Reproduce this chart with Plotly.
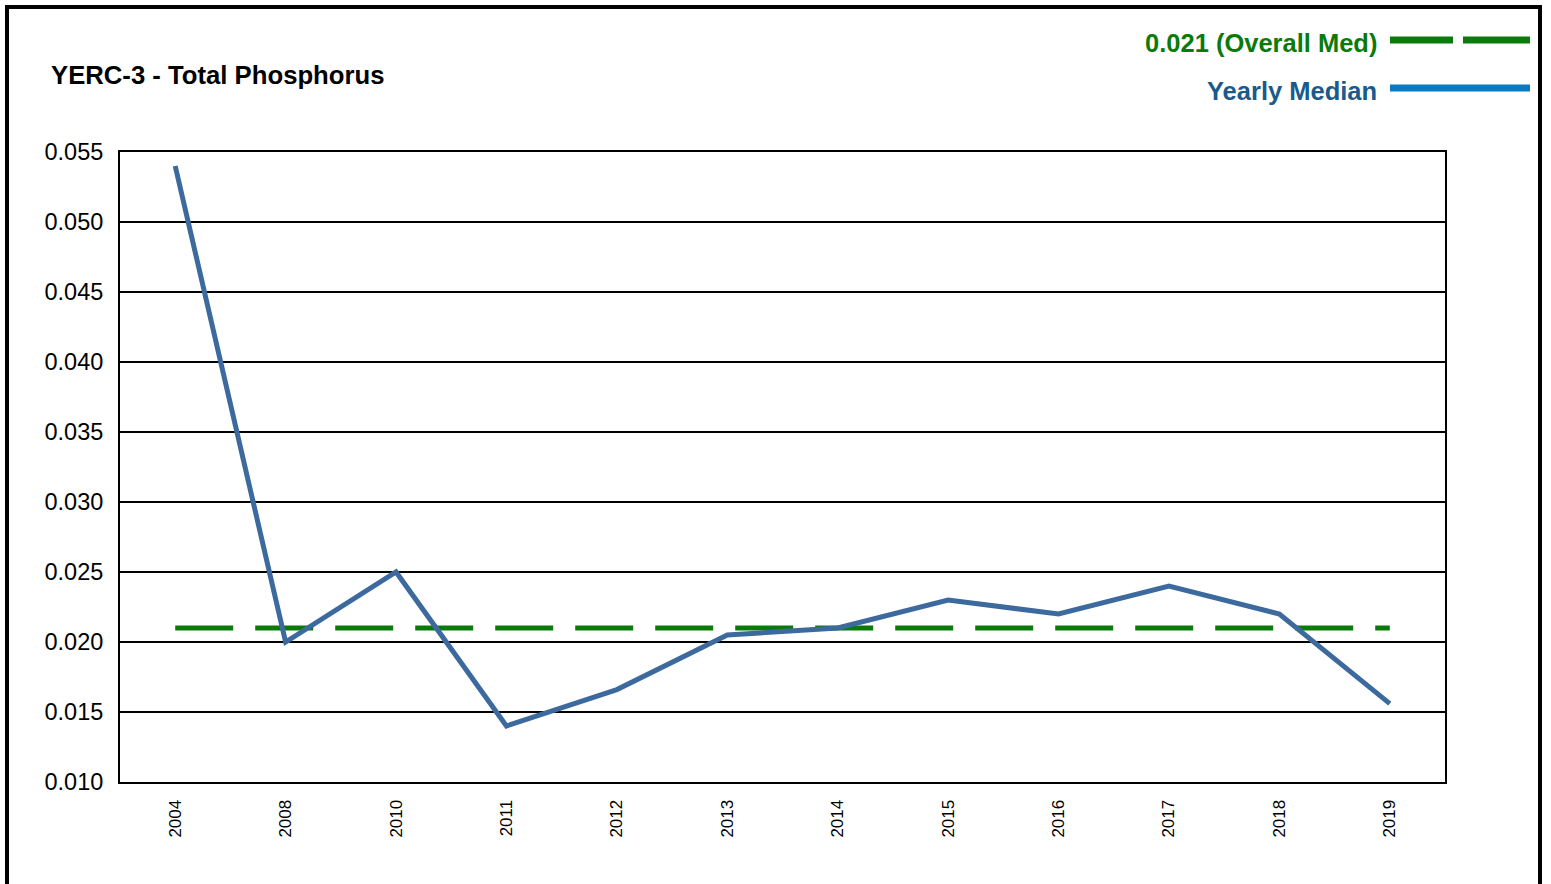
import plotly.graph_objects as go

years = ["2004", "2008", "2010", "2011", "2012", "2013", "2014", "2015", "2016", "2017", "2018", "2019"]
yearly_median = [0.054, 0.020, 0.025, 0.014, 0.0166, 0.0205, 0.021, 0.023, 0.022, 0.024, 0.022, 0.0156]
overall_median = 0.021
y_ticks = [0.010, 0.015, 0.020, 0.025, 0.030, 0.035, 0.040, 0.045, 0.050, 0.055]

W, H = 1551, 884
L, R, T, B = 120, 106, 152, 102
PW, PH = W - L - R, H - T - B

def px(x):
    return (x - L) / PW

def py(y):
    return (H - B - y) / PH

FONT = "Liberation Sans, Arial, sans-serif"
GREEN = "#0a7a0a"
BLUE_LINE = "#3d6a9e"

fig = go.Figure()
fig.add_trace(go.Scatter(
    x=years, y=[overall_median] * len(years), mode="lines",
    line=dict(color=GREEN, width=5, dash="58px,22px"),
    showlegend=False, hoverinfo="skip"))
fig.add_trace(go.Scatter(
    x=years, y=yearly_median, mode="lines",
    line=dict(color=BLUE_LINE, width=5),
    showlegend=False))

shapes = [
    # outer frame
    dict(type="rect", xref="paper", yref="paper", x0=px(7), x1=px(1540), y0=py(910), y1=py(7),
         line=dict(color="black", width=4), layer="below"),
    # legend samples
    dict(type="line", xref="paper", yref="paper", x0=px(1390), x1=px(1453), y0=py(40), y1=py(40),
         line=dict(color=GREEN, width=7)),
    dict(type="line", xref="paper", yref="paper", x0=px(1463), x1=px(1530), y0=py(40), y1=py(40),
         line=dict(color=GREEN, width=7)),
    dict(type="line", xref="paper", yref="paper", x0=px(1390), x1=px(1530), y0=py(88), y1=py(88),
         line=dict(color="#0a78c2", width=7)),
]

annotations = [
    dict(text="<b>YERC-3 - Total Phosphorus</b>", xref="paper", yref="paper", x=px(49), y=py(75),
         xanchor="left", yanchor="middle", showarrow=False, font=dict(family=FONT, size=25.7, color="black")),
    dict(text="<b>0.021 (Overall Med)</b>", xref="paper", yref="paper", x=px(1379), y=py(43),
         xanchor="right", yanchor="middle", showarrow=False, font=dict(family=FONT, size=25.5, color=GREEN)),
    dict(text="<b>Yearly Median</b>", xref="paper", yref="paper", x=px(1379), y=py(91),
         xanchor="right", yanchor="middle", showarrow=False, font=dict(family=FONT, size=25.5, color="#1a5a8c")),
]

fig.update_layout(
    width=W, height=H,
    margin=dict(l=L, r=R, t=T, b=B),
    paper_bgcolor="white", plot_bgcolor="white",
    shapes=shapes, annotations=annotations,
    showlegend=False,
    font=dict(family=FONT, color="black"),
)
fig.update_xaxes(
    type="category", range=[-0.5, len(years) - 0.5],
    tickangle=-90, tickfont=dict(size=17, family=FONT),
    showgrid=False, showline=True, linecolor="black", linewidth=2, mirror=True,
    ticks="", ticklen=0, zeroline=False, ticklabelstandoff=9,
)
fig.update_yaxes(
    range=[0.010, 0.055], tickvals=y_ticks, tickformat=".3f",
    tickfont=dict(size=23.5, family=FONT),
    showgrid=True, gridcolor="black", gridwidth=1.5,
    showline=True, linecolor="black", linewidth=2, mirror=True,
    ticks="", zeroline=False, ticklabelstandoff=10,
)

fig.write_html("out.html", config={"displayModeBar": False},
               post_script="document.body.style.margin='0';document.body.style.overflow='hidden';")
